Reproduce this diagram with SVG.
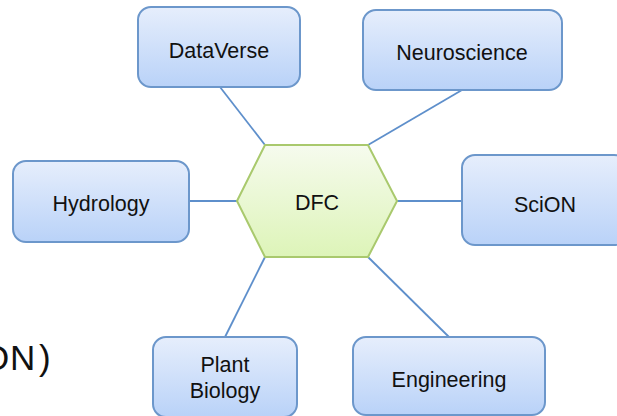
<svg xmlns="http://www.w3.org/2000/svg" width="617" height="416" viewBox="0 0 617 416">
  <defs>
    <linearGradient id="boxFill" x1="0" y1="0" x2="0" y2="1">
      <stop offset="0" stop-color="#e6eefc"/>
      <stop offset="1" stop-color="#b9d2f8"/>
    </linearGradient>
    <linearGradient id="hexFill" x1="0" y1="0" x2="0" y2="1">
      <stop offset="0" stop-color="#f6fbee"/>
      <stop offset="1" stop-color="#ddf4b8"/>
    </linearGradient>
    <style>
      .box { fill: url(#boxFill); stroke: #6c97cb; stroke-width: 2; }
      .hex { fill: url(#hexFill); stroke: #a9c96d; stroke-width: 2; }
      .link { stroke: #5e8fcb; stroke-width: 1.8; fill: none; }
      .label { font-family: "Liberation Sans", Arial, sans-serif; font-size: 21.5px; fill: #111; text-anchor: middle; }
      .big { font-family: "Liberation Sans", Arial, sans-serif; font-size: 35px; fill: #111; }
    </style>
  </defs>

  <rect width="617" height="416" fill="#ffffff"/>

  <!-- heading text running off the left edge of the slide -->
  <text class="big" x="-18 10 39" y="370">ON)</text>

  <!-- connectors between the hub and each project -->
  <g id="connectors">
    <line class="link" x1="220" y1="87" x2="265" y2="145"/>
    <line class="link" x1="462" y1="90" x2="368" y2="145"/>
    <line class="link" x1="189" y1="201" x2="237" y2="201"/>
    <line class="link" x1="462" y1="201" x2="397" y2="201"/>
    <line class="link" x1="225" y1="337" x2="265" y2="257"/>
    <line class="link" x1="449" y1="337" x2="368" y2="257"/>
  </g>

  <g id="dfc">
    <polygon class="hex" points="237,201 265,145 368,145 397,201 368,257 265,257"/>
    <text class="label" x="317" y="210">DFC</text>
  </g>

  <g id="dataverse">
    <rect class="box" x="138" y="7" width="162" height="80" rx="13"/>
    <text class="label" x="219" y="58">DataVerse</text>
  </g>

  <g id="neuroscience">
    <rect class="box" x="363" y="10" width="199" height="80" rx="13"/>
    <text class="label" x="462" y="60">Neuroscience</text>
  </g>

  <g id="hydrology">
    <rect class="box" x="13" y="161" width="176" height="81" rx="13"/>
    <text class="label" x="101" y="211">Hydrology</text>
  </g>

  <g id="scion">
    <rect class="box" x="462" y="155" width="165" height="90" rx="13"/>
    <text class="label" x="545" y="212">SciON</text>
  </g>

  <g id="plant-biology">
    <rect class="box" x="153" y="337" width="144" height="80" rx="13"/>
    <text class="label" x="225" y="372">Plant</text>
    <text class="label" x="225" y="398">Biology</text>
  </g>

  <g id="engineering">
    <rect class="box" x="353" y="337" width="192" height="78" rx="13"/>
    <text class="label" x="449" y="387">Engineering</text>
  </g>
</svg>
